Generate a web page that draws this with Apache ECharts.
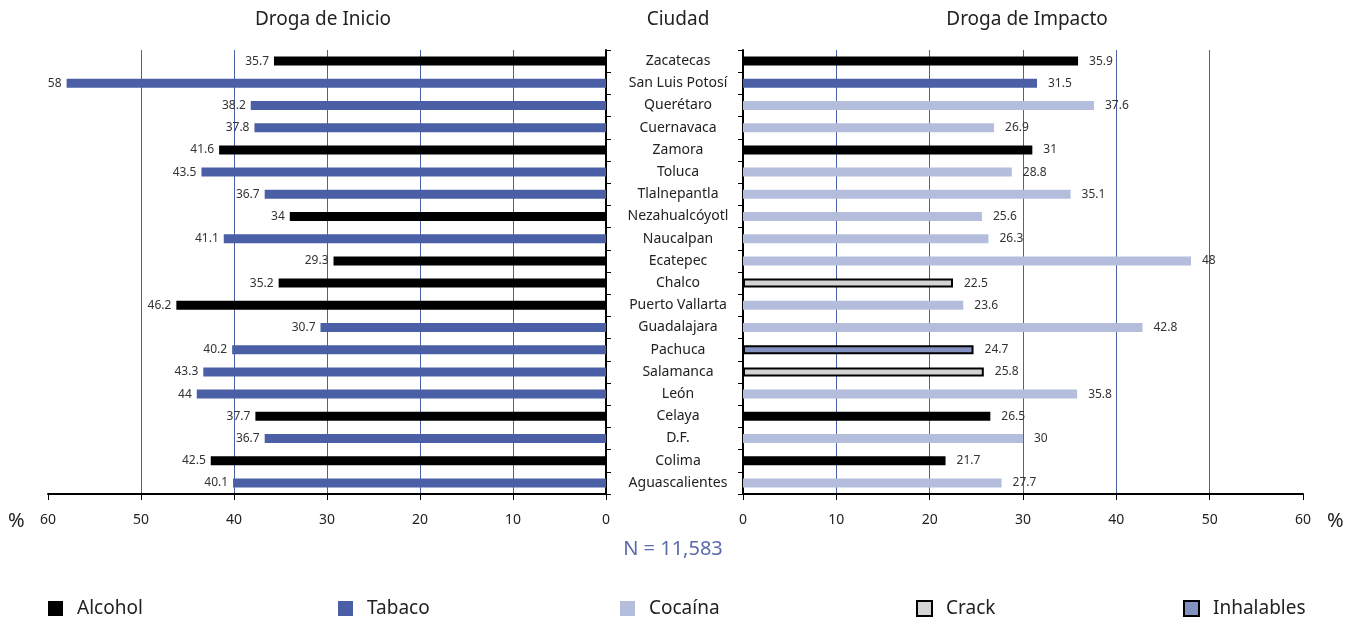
<!DOCTYPE html>
<html><head><meta charset="utf-8">
<script src="https://cdn.jsdelivr.net/npm/echarts@6/dist/echarts.min.js"></script>
<style>html,body{margin:0;padding:0;background:#fff}#c{width:1359px;height:622px}</style>
</head><body><div id="c"></div>
<script>
const cities = ['Zacatecas','San Luis Potosí','Querétaro','Cuernavaca','Zamora','Toluca','Tlalnepantla','Nezahualcóyotl','Naucalpan','Ecatepec','Chalco','Puerto Vallarta','Guadalajara','Pachuca','Salamanca','León','Celaya','D.F.','Colima','Aguascalientes'];
const inicioValues = [35.7,58,38.2,37.8,41.6,43.5,36.7,34,41.1,29.3,35.2,46.2,30.7,40.2,43.3,44,37.7,36.7,42.5,40.1];
const inicioDrug = ['Alcohol','Tabaco','Tabaco','Tabaco','Alcohol','Tabaco','Tabaco','Alcohol','Tabaco','Alcohol','Alcohol','Alcohol','Tabaco','Tabaco','Tabaco','Tabaco','Alcohol','Tabaco','Alcohol','Tabaco'];
const impactoValues = [35.9,31.5,37.6,26.9,31,28.8,35.1,25.6,26.3,48,22.5,23.6,42.8,24.7,25.8,35.8,26.5,30,21.7,27.7];
const impactoDrug = ['Alcohol','Tabaco','Cocaína','Cocaína','Alcohol','Cocaína','Cocaína','Cocaína','Cocaína','Cocaína','Crack','Cocaína','Cocaína','Inhalables','Crack','Cocaína','Alcohol','Cocaína','Alcohol','Cocaína'];
const drugs = ['Alcohol','Tabaco','Cocaína','Crack','Inhalables'];
const xTicks = [0,10,20,30,40,50,60];

const styles = {
  'Alcohol': {color:'#000000'},
  'Tabaco': {color:'#4a5fa5'},
  'Cocaína': {color:'#b4bedc'},
  'Crack': {color:'#d4d4d4', borderColor:'#000', borderWidth:2},
  'Inhalables': {color:'#8391c0', borderColor:'#000', borderWidth:2}
};
const F = 'Noto Sans, Open Sans, sans-serif';
const series = [];
drugs.forEach(d => {
  series.push({
    type:'bar', name:d, xAxisIndex:0, yAxisIndex:0, stack:'L', barWidth:9,
    itemStyle: styles[d],
    label:{show:true, position:'left', distance:5, fontSize:12, color:'#333', fontFamily:F},
    data: inicioValues.map((v,i)=> inicioDrug[i]===d ? v : '-')
  });
  series.push({
    type:'bar', name:d, xAxisIndex:1, yAxisIndex:1, stack:'R', barWidth:9,
    itemStyle: styles[d],
    label:{show:true, position:'right', distance:11, fontSize:12, color:'#333', fontFamily:F},
    data: impactoValues.map((v,i)=> impactoDrug[i]===d ? v : '-')
  });
});
const legendX = [48,338,620,916,1183];
const legends = drugs.map((d,i)=>({
  data:[d], left:legendX[i], top:599, padding:0, icon:'rect', itemWidth:15, itemHeight:15, itemGap:10,
  selectedMode:false,
  textStyle:{fontSize:19, color:'#222', fontFamily:F, padding:[0,0,0,9]}
}));
const xCommon = {
  type:'value', min:0, max:60, interval:10,
  axisLine:{show:true, lineStyle:{color:'#000', width:2}},
  axisTick:{show:true, length:6, lineStyle:{color:'#000', width:1}},
  axisLabel:{fontSize:14, color:'#222', fontFamily:F, margin:19, formatter:v=>String(v)},
  splitLine:{show:true, showMinLine:false, showMaxLine:false, lineStyle:{color:'#4a5fa5', width:1}}
};
const T = (text, left, top, size, color, align) => ({text, left, top, padding:0, textAlign:align||'center',
  textStyle:{fontSize:size, fontWeight:'normal', color:color||'#222', fontFamily:F}});
const chart = echarts.init(document.getElementById('c'));
chart.setOption({
  animation:false,
  title:[
    T('Droga de Inicio', 323, 10, 19),
    T('Ciudad', 678, 10, 19),
    T('Droga de Impacto', 1027, 10, 19),
    T('%', 8, 511, 20, '#222', 'left'),
    T('%', 1327, 511, 20, '#222', 'left'),
    T('N = 11,583', 673, 539, 20, '#5a6aaa')
  ],
  legend: legends,
  grid:[
    {left:48, width:558, top:50, height:444},
    {left:743, width:560, top:50, height:444}
  ],
  xAxis:[
    Object.assign({}, xCommon, {gridIndex:0, inverse:true}),
    Object.assign({}, xCommon, {gridIndex:1})
  ],
  yAxis:[
    {type:'category', gridIndex:0, data:cities, inverse:true, position:'right',
     axisLine:{show:true, lineStyle:{color:'#000', width:2}},
     axisTick:{show:true, length:5, lineStyle:{color:'#000'}},
     axisLabel:{show:false}},
    {type:'category', gridIndex:1, data:cities, inverse:true, position:'left',
     axisLine:{show:true, lineStyle:{color:'#000', width:2}},
     axisTick:{show:true, length:5, lineStyle:{color:'#000'}},
     axisLabel:{show:true, align:'center', margin:65, fontSize:14, color:'#222', fontFamily:F}}
  ],
  series: series
});
</script></body></html>
